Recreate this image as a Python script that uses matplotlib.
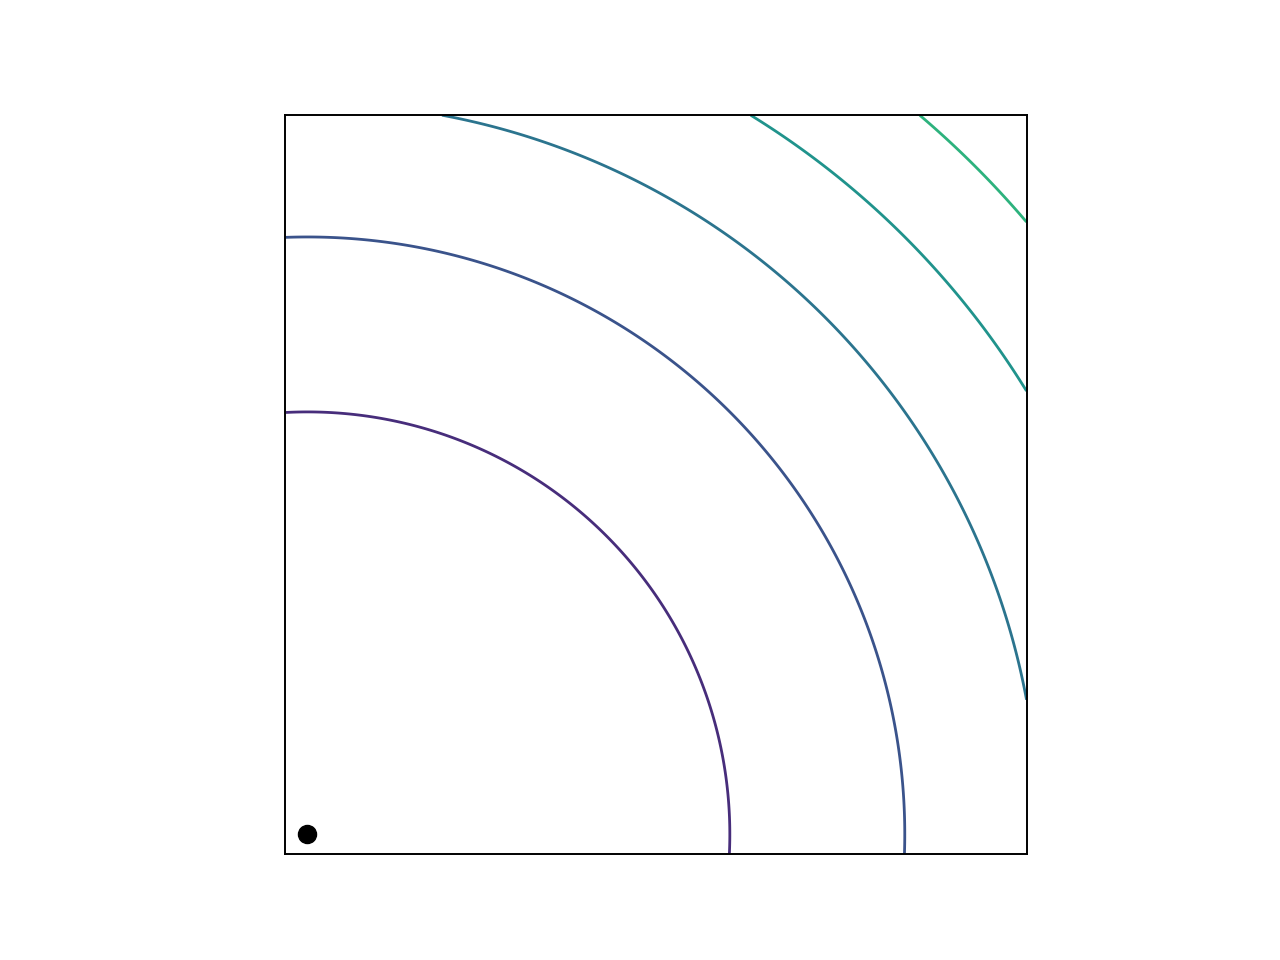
import numpy as np
import matplotlib
matplotlib.use('Agg')
import matplotlib.pyplot as plt
from matplotlib.colors import Normalize

# point the rings are centred on
center_x = [0.0]
center_y = [0.0]

# view window
x_lim = [-0.0306, 1.0]
y_lim = [-0.028, 1.0]

# squared-distance levels of the drawn rings
levels = [0.345, 0.69, 1.035, 1.38, 1.725]
level_max = 2.69

x = np.linspace(x_lim[0], x_lim[1], 600)
y = np.linspace(y_lim[0], y_lim[1], 600)
X, Y = np.meshgrid(x, y)
Z = (X - center_x[0]) ** 2 + (Y - center_y[0]) ** 2

fig, ax = plt.subplots(figsize=(12.8, 9.6), dpi=100)
ax.contour(X, Y, Z, levels=levels, cmap='viridis',
           norm=Normalize(vmin=0, vmax=level_max), linewidths=2)
ax.plot(center_x, center_y, 'o', color='black', markersize=13)

ax.set_xlim(x_lim)
ax.set_ylim(y_lim)
ax.set_aspect('equal')
ax.set_xticks([])
ax.set_yticks([])
for sp in ax.spines.values():
    sp.set_linewidth(1.4)

fig.savefig('out.png')
